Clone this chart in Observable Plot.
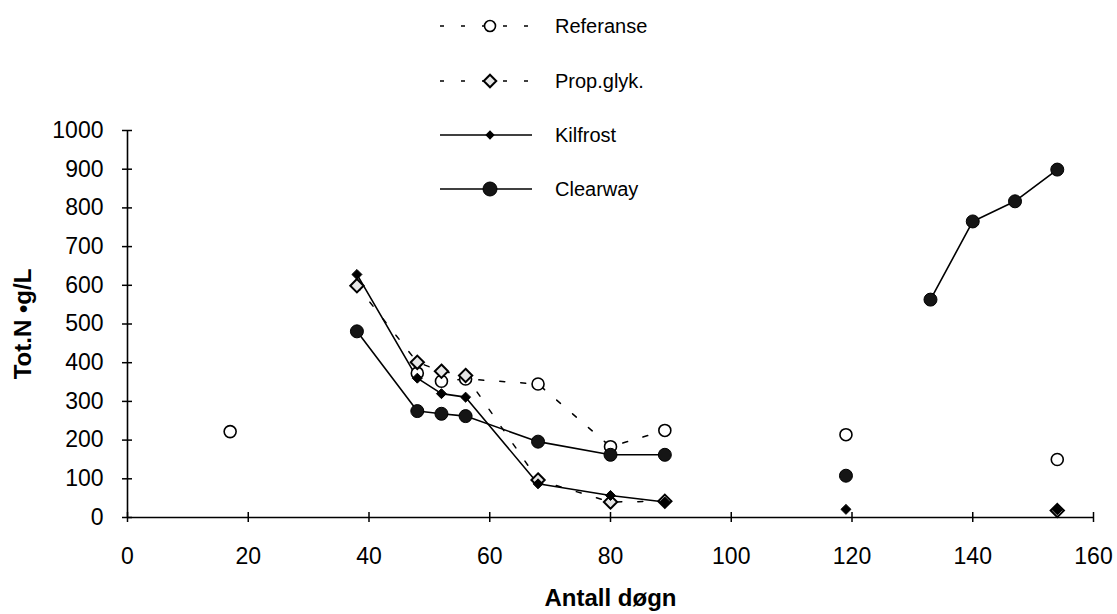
<!DOCTYPE html>
<html><head><meta charset="utf-8">
<script src="https://cdn.jsdelivr.net/npm/d3@7"></script>
<script src="https://cdn.jsdelivr.net/npm/@observablehq/plot@0.6"></script>
<style>
body{margin:0;background:#fff;font-family:"Liberation Sans",Arial,Helvetica,sans-serif}
#wrap{position:relative;width:1117px;height:614px}
#legend{position:absolute;left:0;top:0}
</style>
</head><body><div id="wrap"></div>
<script>
// ---- data ----
const seriesNames = ["Referanse", "Prop.glyk.", "Kilfrost", "Clearway"];

const refDays = [17, 48, 52, 56, 68, 80, 89, 119, 154];
const refVals = [222, 373, 352, 358, 345, 183, 225, 214, 150];
const refRun  = [0, 1, 1, 1, 1, 1, 1, 2, 3];

const propDays = [38, 48, 52, 56, 68, 80, 89, 154];
const propVals = [599, 401, 378, 367, 97, 40, 42, 18];
const propRun  = [0, 0, 0, 0, 0, 0, 0, 1];

const kilDays = [38, 48, 52, 56, 68, 80, 89, 119, 154];
const kilVals = [628, 360, 320, 311, 87, 57, 40, 21, 20];
const kilRun  = [0, 0, 0, 0, 0, 0, 0, 1, 2];

const clearDays = [38, 48, 52, 56, 68, 80, 89, 119, 133, 140, 147, 154];
const clearVals = [481, 275, 268, 262, 196, 162, 162, 108, 563, 765, 817, 899];
const clearRun  = [0, 0, 0, 0, 0, 0, 0, 1, 2, 2, 2, 2];

const xTicks = [0, 20, 40, 60, 80, 100, 120, 140, 160];
const yTicks = [0, 100, 200, 300, 400, 500, 600, 700, 800, 900, 1000];

const xLabel = "Antall døgn";
const yLabel = "Tot.N \u2022g/L";

function rows(days, vals, run, name) {
  return days.map((d, i) => ({day: d, val: vals[i], run: name + run[i]}));
}
const ref = rows(refDays, refVals, refRun, "r");
const prop = rows(propDays, propVals, propRun, "p");
const kil = rows(kilDays, kilVals, kilRun, "k");
const clear = rows(clearDays, clearVals, clearRun, "c");

const dash = "5,16";
const font = '"Liberation Sans", Arial, Helvetica, sans-serif';

const chart = Plot.plot({
  width: 1117,
  height: 614,
  marginLeft: 127,
  marginRight: 24,
  marginTop: 130,
  marginBottom: 97,
  style: {fontFamily: font, fontSize: "23px", color: "#000", background: "#fff"},
  x: {domain: [0, 160]},
  y: {domain: [0, 1000]},
  marks: [
    // tick labels
    Plot.axisX({ticks: xTicks, tickSize: 0, tickPadding: 30, fontSize: 23, tickFormat: d3.format("d"), label: null}),
    Plot.axisY({ticks: yTicks, tickSize: 0, tickPadding: 24, fontSize: 23, tickFormat: d3.format("d"), label: null}),
    // axis titles
    Plot.axisX({ticks: [], tickSize: 0, label: xLabel, labelAnchor: "center", labelArrow: "none", labelOffset: 88, fontSize: 24, fontWeight: "bold"}),
    Plot.axisY({ticks: [], tickSize: 0, label: yLabel, labelAnchor: "center", labelArrow: "none", labelOffset: 114, fontSize: 24, fontWeight: "bold"}),
    Plot.ruleY([0], {stroke: "#000", strokeWidth: 1.6}),
    Plot.ruleX([0], {stroke: "#000", strokeWidth: 1.6}),
    // tick marks crossing the axes
    Plot.ruleX(xTicks, {x: d => d, y1: () => 0, y2: () => 0, insetTop: -5, insetBottom: -5, stroke: "#000", strokeWidth: 1.5}),
    Plot.ruleY(yTicks, {y: d => d, x1: () => 0, x2: () => 0, insetLeft: -5, insetRight: -5, stroke: "#000", strokeWidth: 1.5}),
    // lines
    Plot.line(ref, {x: "day", y: "val", z: "run", stroke: "#000", strokeWidth: 1.5, strokeDasharray: dash}),
    Plot.line(prop, {x: "day", y: "val", z: "run", stroke: "#000", strokeWidth: 1.5, strokeDasharray: dash}),
    Plot.line(kil, {x: "day", y: "val", z: "run", stroke: "#000", strokeWidth: 1.6}),
    Plot.line(clear, {x: "day", y: "val", z: "run", stroke: "#000", strokeWidth: 1.6}),
    // markers
    Plot.dot(ref, {x: "day", y: "val", r: 6, fill: "#fff", stroke: "#000", strokeWidth: 1.6}),
    Plot.dot(prop, {x: "day", y: "val", symbol: "diamond2", r: 6, fill: "#e6e6e6", stroke: "#000", strokeWidth: 2}),
    Plot.dot(kil, {x: "day", y: "val", symbol: "diamond2", r: 4.5, fill: "#000", stroke: "#000", strokeWidth: 1}),
    Plot.dot(clear, {x: "day", y: "val", r: 6.5, fill: "#151515", stroke: "#000", strokeWidth: 1})
  ]
});

const wrap = document.getElementById("wrap");
wrap.appendChild(chart);

// ---- legend (overlay) ----
const legendRows = [
  {name: seriesNames[0], y: 26, dashed: true, kind: "ref"},
  {name: seriesNames[1], y: 81, dashed: true, kind: "prop"},
  {name: seriesNames[2], y: 135, dashed: false, kind: "kil"},
  {name: seriesNames[3], y: 189, dashed: false, kind: "clear"}
];
const leg = d3.create("svg").attr("id", "legend").attr("width", 700).attr("height", 210)
  .attr("font-family", font);
for (const r of legendRows) {
  const g = leg.append("g").attr("transform", `translate(0,${r.y})`);
  g.append("line").attr("x1", 440).attr("x2", 532).attr("y1", 0).attr("y2", 0)
    .attr("stroke", "#000").attr("stroke-width", 1.5)
    .attr("stroke-dasharray", r.dashed ? "4,17" : null);
  if (r.kind === "ref") g.append("circle").attr("cx", 490).attr("r", 5.5).attr("fill", "#fff").attr("stroke", "#000").attr("stroke-width", 1.6);
  if (r.kind === "prop") g.append("path").attr("d", d3.symbol(d3.symbolDiamond2, 100)()).attr("transform", "translate(490,0)").attr("fill", "#e6e6e6").attr("stroke", "#000").attr("stroke-width", 2);
  if (r.kind === "kil") g.append("path").attr("d", d3.symbol(d3.symbolDiamond2, 55)()).attr("transform", "translate(490,0)").attr("fill", "#000");
  if (r.kind === "clear") g.append("circle").attr("cx", 490).attr("r", 7).attr("fill", "#151515").attr("stroke", "#000");
  g.append("text").attr("x", 555).attr("y", 0).attr("dy", "0.35em").attr("font-size", 20).attr("fill", "#000").text(r.name);
}
wrap.appendChild(leg.node());
</script>
</body></html>
